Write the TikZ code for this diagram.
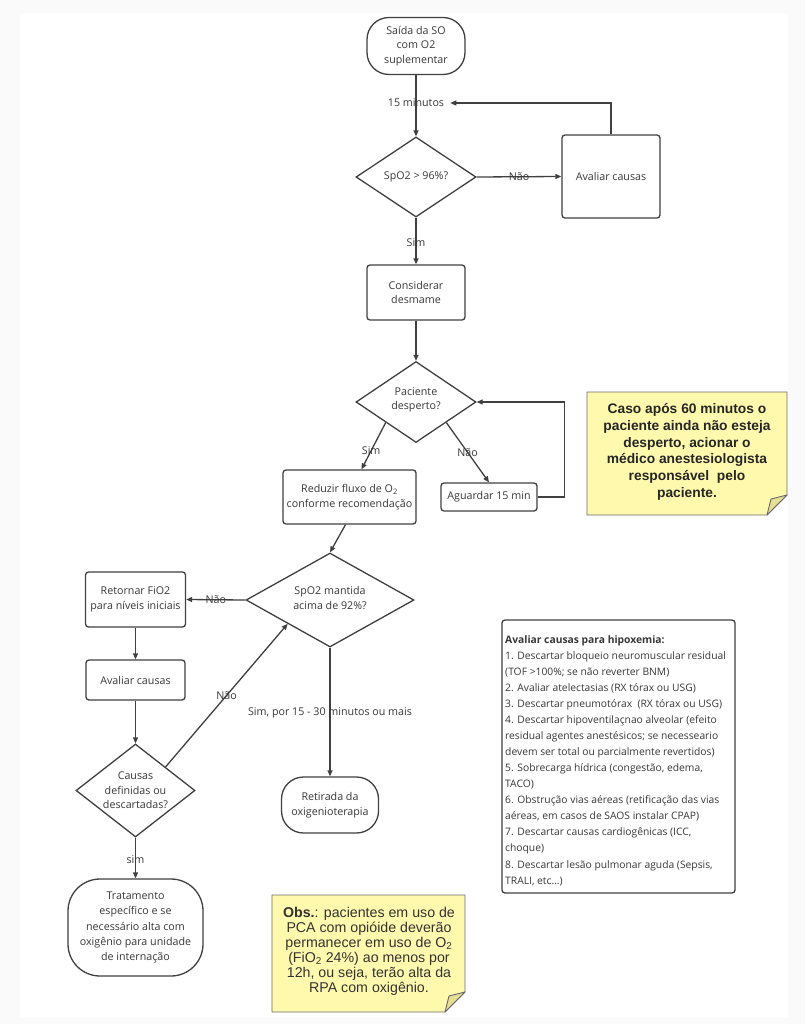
\documentclass[tikz,border=0pt]{standalone}
\usepackage{fontspec}
\setmainfont{Open Sans}
\newfontfamily\arialf{Liberation Sans}
\usetikzlibrary{shapes.geometric,arrows.meta}
\definecolor{bgc}{HTML}{FAFAFA}
\definecolor{linec}{HTML}{404040}
\definecolor{textc}{HTML}{383838}
\definecolor{notey}{HTML}{FFF9AE}
\definecolor{notefold}{HTML}{E6DE94}
\definecolor{notebd}{HTML}{6A6A6A}
\newcommand\ftxt{\fontsize{10.7}{14.5}\selectfont}
\begin{document}
\begin{tikzpicture}[x=1pt,y=-1pt,
  box/.style={draw=linec, line width=1.3pt, rounded corners=3pt, inner sep=0pt, align=center, text=textc, font=\ftxt},
  term/.style={box, rounded corners=22pt},
  dia/.style={draw=linec, line width=1.3pt, diamond, inner sep=0pt},
  lbl/.style={text=textc, font=\ftxt, inner sep=2pt, align=center},
  arr/.style={draw=linec, line width=1.3pt, -{Triangle[length=6pt,width=5pt]}},
  note/.style={draw=notebd, fill=notey, line width=0.9pt},
  fold/.style={draw=notebd, fill=notefold, line width=0.9pt, line join=round}
]
\useasboundingbox (0,0) rectangle (805,1024);
\fill[bgc] (0,0) rectangle (805,1024);
\fill[white] (20,13) rectangle (788,1017);

% nodes
\node[term, minimum width=98pt, minimum height=57pt] (start) at (416,46) {Saída da SO\\com O2\\suplementar};
\node[lbl] (m15) at (416,103) {15 minutos};
\node[dia, minimum width=120pt, minimum height=80pt] (d1) at (416,177) {};
\node[lbl] (d1t) at (d1) {SpO2 > 96\%?};
\node[box, minimum width=98pt, minimum height=83pt] (ac1) at (611,176.5) {Avaliar causas};
\node[box, minimum width=98pt, minimum height=55pt] (cons) at (416,292.5) {Considerar\\desmame};
\node[dia, minimum width=120pt, minimum height=81pt] (d2) at (416,402) {};
\node[lbl] (d2t) at (416,400) {Paciente\\desperto?};
\node[box, minimum width=133pt, minimum height=54pt] (red) at (349.5,497) {Reduzir fluxo de O\textsubscript{2}\\conforme recomendação};
\node[box, minimum width=96pt, minimum height=28pt] (ag) at (489,497) {Aguardar 15 min};
\node[dia, minimum width=168pt, minimum height=94pt] (d3) at (330,600) {};
\node[lbl] (d3t) at (330,598) {SpO2 mantida\\acima de 92\%?};
\node[box, minimum width=100pt, minimum height=55pt] (ret) at (135.5,599.5) {Retornar FiO2\\para níveis iniciais};
\node[box, minimum width=99pt, minimum height=40pt] (ac2) at (135.5,680) {Avaliar causas};
\node[dia, minimum width=119pt, minimum height=93pt] (d4) at (135.5,790.5) {};
\node[lbl] (d4t) at (d4) {Causas\\definidas ou\\descartadas?};
\node[term, minimum width=97pt, minimum height=56pt] (reti) at (330,805) {Retirada da\\oxigenioterapia};
\node[term, rounded corners=32pt, minimum width=135pt, minimum height=97pt, font=\fontsize{10.7}{15.2}\selectfont] (trat) at (135.5,927.5) {Tratamento\\específico e se\\necessário alta com\\oxigênio para unidade\\de internação};

% hypoxemia box
\node[draw=linec, line width=1.3pt, rounded corners=3pt, minimum width=233pt, minimum height=273pt, inner sep=0pt] (hb) at (618.5,756.5) {};
\node[anchor=north west, align=left, text=textc, inner sep=0pt, font=\fontsize{10.3}{16.07}\selectfont] (hbt) at (505,635) {\textbf{Avaliar causas para hipoxemia:}\\
1. Descartar bloqueio neuromuscular residual\\
(TOF >100\%; se não reverter BNM)\\
2. Avaliar atelectasias (RX tórax ou USG)\\
3. Descartar pneumotórax\ \ (RX tórax ou USG)\\
4. Descartar hipoventilaçnao alveolar (efeito\\
residual agentes anestésicos; se necesseario\\
devem ser total ou parcialmente revertidos)\\
5. Sobrecarga hídrica (congestão, edema,\\
TACO)\\
6. Obstrução vias aéreas (retificação das vias\\
aéreas, em casos de SAOS instalar CPAP)\\
7. Descartar causas cardiogênicas (ICC,\\
choque)\\
8. Descartar lesão pulmonar aguda (Sepsis,\\
TRALI, etc...)};

% yellow notes
\path[note] (587,392) -- (787,392) -- (787,495) -- (767,515) -- (587,515) -- cycle;
\path[fold] (787,495) -- (771,499) -- (767,515) -- cycle;
\node[align=center, text=black!85, inner sep=0pt, font=\arialf\bfseries\fontsize{13.8}{16.7}\selectfont] (n1) at (687,452) {Caso após 60 minutos o\\paciente ainda não esteja\\desperto, acionar o\\médico anestesiologista\\responsável\ \ pelo\\paciente.};

\path[note] (272,895) -- (465,895) -- (465,992) -- (445,1012) -- (272,1012) -- cycle;
\path[fold] (465,992) -- (449,996) -- (445,1012) -- cycle;
\node[align=center, text=black!80, inner sep=0pt, font=\arialf\fontsize{14.2}{15}\selectfont] (n2) at (369,951) {\textbf{Obs.}: pacientes em uso de\\PCA com opióide deverão\\permanecer em uso de O\textsubscript{2}\\(FiO\textsubscript{2} 24\%) ao menos por\\12h, ou seja, terão alta da\\RPA com oxigênio.};

% connectors
\draw[arr] (start.south) -- (d1.north);
\draw[arr] (ac1.north) |- ([xshift=4pt]m15.east);
\draw[arr] (d1.east) -- node[lbl]{Não} (ac1.west);
\draw[arr] (d1.south) -- node[lbl, pos=0.54]{Sim} (cons.north);
\draw[arr] (cons.south) -- (d2.north);
\draw[arr] (d2.south west) -- node[lbl, pos=0.6]{Sim} ([xshift=12pt]red.north);
\draw[arr] (d2.south east) -- node[lbl, pos=0.5]{Não} (ag.north);
\draw[arr] (ag.east) -- ++(27,0) |- (d2.east);
\draw[arr] ([xshift=-4pt]red.south) -- (d3.north);
\draw[arr] (d3.west) -- node[lbl]{Não} (ret.east);
\draw[arr] (ret.south) -- (ac2.north);
\draw[arr] (ac2.south) -- (d4.north);
\draw[arr] (d4.north east) -- node[lbl, pos=0.5]{Não} (d3.south west);
\draw[arr] (d3.south) -- node[lbl, pos=0.51]{Sim, por 15 - 30 minutos ou mais} (reti.north);
\draw[arr] (d4.south) -- node[lbl, pos=0.55]{sim} (trat.north);
\end{tikzpicture}
\end{document}
